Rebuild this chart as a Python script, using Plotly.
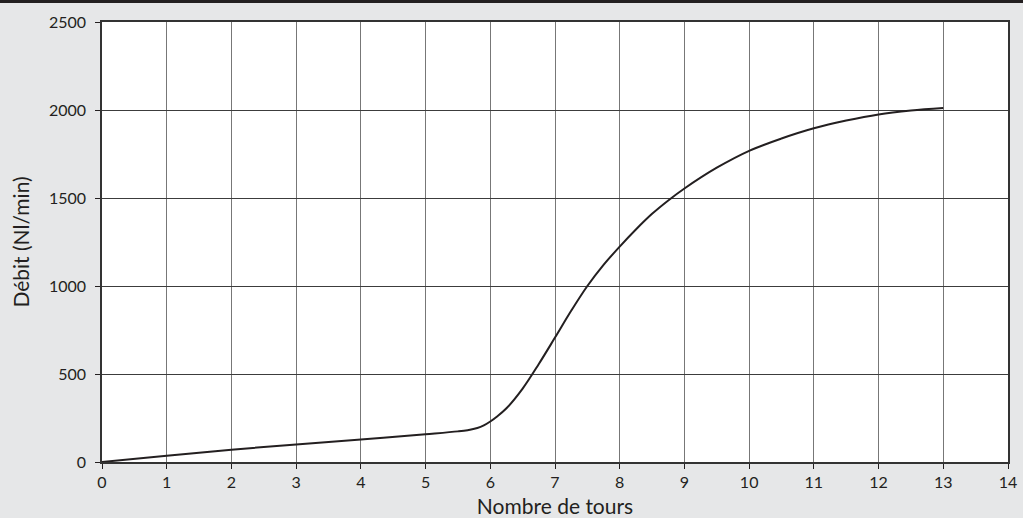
import plotly.graph_objects as go

# Débit en fonction du nombre de tours d'ouverture
tours = [0, 1, 2, 3, 4, 5, 5.5, 5.65, 5.8, 5.9, 6, 6.1, 6.25, 6.5, 6.75, 7, 7.25, 7.5,
         7.75, 8, 8.25, 8.5, 8.75, 9, 9.5, 10, 10.5, 11, 11.5, 12, 12.5, 13]
debit = [0, 36, 70, 100, 128, 158, 174, 181, 193, 208, 230, 257, 305, 417, 557, 707, 859, 1000,
         1120, 1224, 1321, 1410, 1486, 1554, 1672, 1768, 1838, 1896, 1940, 1975, 1997, 2011]

x_ticks = list(range(0, 15))
y_ticks = [0, 500, 1000, 1500, 2000, 2500]

INK = "#231f20"
BG = "#e6e7e8"
FONT = "Lato, 'DejaVu Sans', sans-serif"

fig = go.Figure()
fig.add_trace(go.Scatter(
    x=tours, y=debit, mode="lines",
    line=dict(color=INK, width=2, shape="spline", smoothing=1.0),
    hoverinfo="x+y", showlegend=False,
))

fig.update_layout(
    width=1023, height=518,
    margin=dict(l=102, r=15, t=22, b=56, autoexpand=False),
    paper_bgcolor=BG, plot_bgcolor="white",
    font=dict(family=FONT, color=INK, size=16),
    xaxis=dict(
        range=[0, 14], tickvals=x_ticks, ticktext=[str(v) for v in x_ticks],
        showgrid=True, gridcolor="#777777", gridwidth=1.3,
        ticks="outside", ticklen=5, tickcolor=INK, tickwidth=1,
        showline=True, linecolor="#333333", linewidth=1.5, mirror=True,
        zeroline=False, fixedrange=True, automargin=False,
        tickfont=dict(size=16),
        title=dict(text="Nombre de tours", font=dict(size=21), standoff=10),
    ),
    yaxis=dict(
        range=[0, 2500], tickvals=y_ticks, ticktext=[str(v) for v in y_ticks],
        showgrid=True, gridcolor="#3c3c3c", gridwidth=1,
        ticks="outside", ticklen=5, tickcolor=INK, tickwidth=1,
        ticklabelstandoff=6,
        showline=True, linecolor="#333333", linewidth=1.5, mirror=True,
        zeroline=False, fixedrange=True, automargin=False,
        tickfont=dict(size=16),
        title=dict(text="Débit (Nl/min)", font=dict(size=21), standoff=14),
    ),
    shapes=[dict(
        type="line", xref="paper", yref="paper",
        x0=-0.2, x1=1.2, y0=1.0466, y1=1.0466,
        line=dict(color=INK, width=3),
    )],
)

fig.write_html("out.html")
